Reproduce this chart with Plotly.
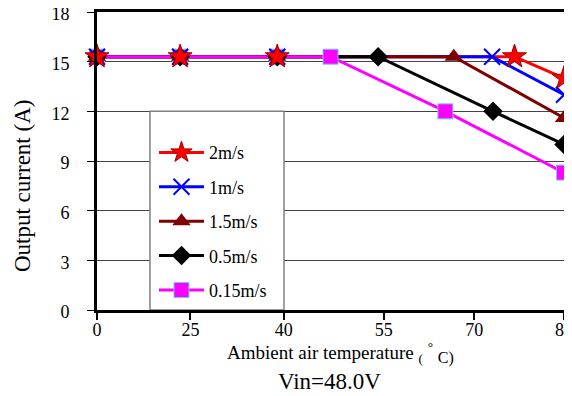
import plotly.graph_objects as go

# ---- data ----
tick_labels = ["0", "25", "40", "55", "70", "85"]
tick_pos = [0, 1, 2, 3.07, 4.04, 5.0]

series_names = ["2m/s", "1m/s", "1.5m/s", "0.5m/s", "0.15m/s"]
x_2 = [0, 0.89, 1.93, 4.47, 5.0]
y_2 = [15.3, 15.3, 15.3, 15.3, 14.0]
x_1 = [0, 0.89, 1.93, 4.23, 5.0]
y_1 = [15.3, 15.3, 15.3, 15.3, 13.0]
x_15 = [0, 0.89, 1.93, 3.82, 5.0]
y_15 = [15.3, 15.3, 15.3, 15.3, 11.6]
x_05 = [0, 0.89, 1.93, 3.01, 4.24, 5.0]
y_05 = [15.3, 15.3, 15.3, 15.3, 12.0, 10.0]
x_015 = [0, 0.89, 1.93, 2.50, 3.73, 5.0]
y_015 = [15.3, 15.3, 15.3, 15.3, 12.0, 8.3]

xs = [x_2, x_1, x_15, x_05, x_015]
ys = [y_2, y_1, y_15, y_05, y_015]
colors = ["#FF0000", "#0000FF", "#800000", "#000000", "#FF00FF"]
markers = [
    dict(symbol="star", size=18, color="#FF0000", line=dict(color="#990000", width=1)),
    dict(symbol="x-thin", size=16, color="#0000FF", line=dict(color="#0000FF", width=2)),
    dict(symbol="triangle-up", size=16, color="#800000", line=dict(width=0)),
    dict(symbol="diamond", size=15, color="#000000", line=dict(width=0)),
    dict(symbol="square", size=15, color="#FF00FF", line=dict(color="#66CCFF", width=1)),
]

FONT = "Liberation Serif, Times New Roman, serif"
fig = go.Figure()

# lines (pink on top)
for i in [0, 1, 2, 3, 4]:
    fig.add_trace(go.Scatter(x=xs[i], y=ys[i], mode="lines",
                             line=dict(color=colors[i], width=3),
                             showlegend=False, hoverinfo="skip"))
# markers (red on top)
for i in [4, 3, 2, 1, 0]:
    fig.add_trace(go.Scatter(x=xs[i], y=ys[i], mode="markers",
                             marker=markers[i], showlegend=False, cliponaxis=False))
# legend entries
for i in range(5):
    fig.add_trace(go.Scatter(x=[None], y=[None], mode="lines+markers",
                             name=series_names[i], legendgroup=series_names[i],
                             line=dict(color=colors[i], width=3),
                             marker=markers[i]))

fig.add_shape(type="rect", xref="x", yref="y", x0=0.567, x1=2.002, y0=0, y1=12,
              fillcolor="white", line=dict(color="#808080", width=1.5), layer="between")

# page body has an 8px margin: figure is drawn offset by 8px; the window crops the rest
fig.update_layout(
    width=572, height=388,
    margin=dict(l=89, r=16, t=4, b=86),
    paper_bgcolor="white", plot_bgcolor="white",
    font=dict(family=FONT, color="black", size=18),
    legend=dict(x=0.122, y=0.59, xanchor="left", yanchor="top",
                bgcolor="rgba(0,0,0,0)", font=dict(size=18, family=FONT),
                tracegroupgap=8, itemwidth=45),
    xaxis=dict(range=[0, 5.0], tickvals=tick_pos, ticktext=tick_labels,
               showgrid=False, zeroline=False, showline=True, linecolor="black",
               linewidth=3, mirror=True, ticks="outside", ticklen=7, tickwidth=2,
               tickcolor="black", tickfont=dict(size=18, family=FONT),
               ticklabelstandoff=-6, ticklabeloverflow="allow",
               automargin=False),
    yaxis=dict(range=[0, 18], tickvals=[0, 3, 6, 9, 12, 15, 18],
               showgrid=True, gridcolor="#444444", gridwidth=1, zeroline=False,
               showline=True, linecolor="black", linewidth=3, mirror=True,
               ticks="outside", ticklen=7, tickwidth=1, tickcolor="black",
               ticklabelstandoff=14, ticklabelshift=2, ticklabeloverflow="allow",
               tickfont=dict(size=18, family=FONT), automargin=False),
    annotations=[
        dict(text="Output current (A)", xref="paper", yref="paper",
             x=-0.1606, y=0.416, textangle=-90, showarrow=False,
             xanchor="center", yanchor="middle", font=dict(size=23, family=FONT)),
        dict(text="Ambient air temperature <sub>(</sub> <sup>°</sup> "
                  "<sub><span style='font-size:16px'>C)</span></sub>",
             xref="paper", yref="paper", x=(340 - 97) / 467, y=(310 - 353) / 298,
             showarrow=False, xanchor="center", yanchor="middle",
             font=dict(size=19, family=FONT)),
        dict(text="Vin=48.0V", xref="paper", yref="paper",
             x=(329.5 - 97) / 467, y=(310 - 381) / 298, showarrow=False,
             xanchor="center", yanchor="middle", font=dict(size=23, family=FONT)),
    ],
)

fig.write_html("out.html")
